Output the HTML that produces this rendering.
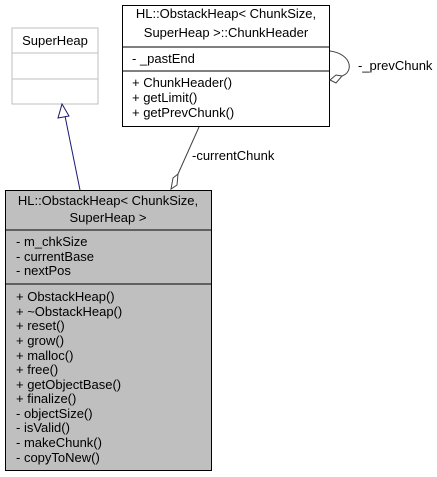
<!DOCTYPE html>
<html><head><meta charset="utf-8"><style>
html,body{margin:0;padding:0;background:#fff}
svg{display:block}
text{font-family:"Liberation Sans",Helvetica,sans-serif;font-size:13px;fill:#000}
</style></head><body>
<svg width="437" height="477" viewBox="0 0 437 477" xmlns="http://www.w3.org/2000/svg">
<!-- SuperHeap -->
<rect x="12" y="28" width="86" height="76" fill="#fff" stroke="#bfbfbf"/>
<line x1="12" y1="53" x2="98" y2="53" stroke="#bfbfbf"/>
<line x1="12" y1="79" x2="98" y2="79" stroke="#bfbfbf"/>
<text x="55" y="45" text-anchor="middle">SuperHeap</text>
<!-- ChunkHeader -->
<rect x="122.5" y="5.5" width="207" height="121" fill="#fff" stroke="#000"/>
<line x1="122.5" y1="47" x2="329.5" y2="47" stroke="#000"/>
<line x1="122.5" y1="71" x2="329.5" y2="71" stroke="#000"/>
<text x="226" y="18" text-anchor="middle">HL::ObstackHeap&lt; ChunkSize,</text>
<text x="226" y="37" text-anchor="middle">SuperHeap &gt;::ChunkHeader</text>
<text x="132" y="63">- _pastEnd</text>
<text x="132" y="87">+ ChunkHeader()</text>
<text x="132" y="102">+ getLimit()</text>
<text x="132" y="117">+ getPrevChunk()</text>
<!-- self loop -->
<path d="M330,51 C352,54 354,72 342,76" fill="none" stroke="#404040"/>
<polygon points="342,76 336,75 330,80 336,83" fill="#fff" stroke="#404040"/>
<text x="358" y="70">-_prevChunk</text>
<!-- Main -->
<rect x="5.5" y="190.5" width="206" height="280" fill="#bfbfbf" stroke="#000"/>
<line x1="5.5" y1="230" x2="211.5" y2="230" stroke="#000"/>
<line x1="5.5" y1="284" x2="211.5" y2="284" stroke="#000"/>
<text x="108" y="205" text-anchor="middle">HL::ObstackHeap&lt; ChunkSize,</text>
<text x="108" y="222" text-anchor="middle">SuperHeap &gt;</text>
<text x="16" y="246">- m_chkSize</text>
<text x="16" y="261">- currentBase</text>
<text x="16" y="275">- nextPos</text>
<text x="16" y="301">+ ObstackHeap()</text>
<text x="16" y="316">+ ~ObstackHeap()</text>
<text x="16" y="330">+ reset()</text>
<text x="16" y="345">+ grow()</text>
<text x="16" y="360">+ malloc()</text>
<text x="16" y="374">+ free()</text>
<text x="16" y="389">+ getObjectBase()</text>
<text x="16" y="403">+ finalize()</text>
<text x="16" y="418">- objectSize()</text>
<text x="16" y="432">- isValid()</text>
<text x="16" y="447">- makeChunk()</text>
<text x="16" y="462">- copyToNew()</text>
<!-- inheritance -->
<line x1="80" y1="190" x2="65" y2="116" stroke="#191970"/>
<polygon points="62,104 58,118 69,116" fill="#fff" stroke="#191970"/>
<!-- currentChunk -->
<line x1="199" y1="127" x2="178" y2="174" stroke="#404040"/>
<polygon points="178,174 173,178 171,189 177,185" fill="#fff" stroke="#404040"/>
<text x="192" y="160">-currentChunk</text>
</svg>
</body></html>
